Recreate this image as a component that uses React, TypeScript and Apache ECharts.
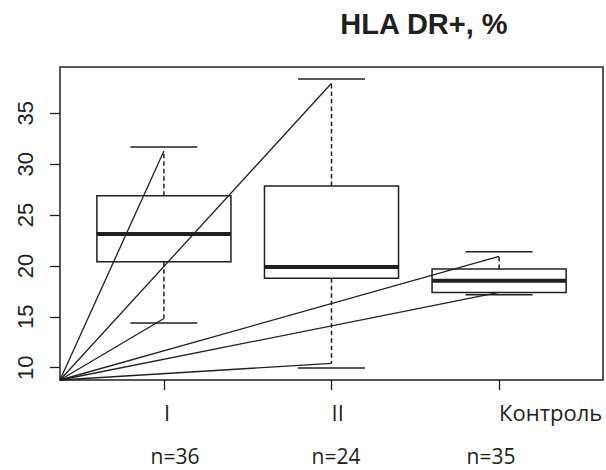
import { useEffect, useRef } from 'react';
import * as echarts from 'echarts';

const categories = ['I', 'II', 'Контроль'];
const sampleSizes = ['n=36', 'n=24', 'n=35'];
const q1 = [20.4, 18.8, 17.4];
const median = [23.15, 19.9, 18.55];
const q3 = [26.9, 27.85, 19.7];
const whiskerLow = [14.84, 10.42, 17.4];
const whiskerHigh = [31.3, 37.95, 20.94];
const capLow = [14.4, 9.97, 17.16];
const capHigh = [31.7, 38.37, 21.4];
const yTicks = [10, 15, 20, 25, 30, 35];
const xTicks = [1, 2, 3];
const title = 'HLA DR+, %';

const INK = '#231f20';

export default function App() {
  const ref = useRef<HTMLDivElement>(null);
  useEffect(() => {
    document.body.style.margin = '0';
    const chart = echarts.init(ref.current!, null, { renderer: 'svg' });
    const boxData = categories.map((_, i) => [
      i + 1, capLow[i], whiskerLow[i], q1[i], median[i], q3[i], whiskerHigh[i], capHigh[i],
    ]);
    const rayData = categories.flatMap((_, i) => [
      [i + 1, whiskerHigh[i]],
      [i + 1, whiskerLow[i]],
    ]);
    const nX = [175, 336, 491];
    chart.setOption({
      animation: false,
      backgroundColor: '#fff',
      grid: {
        left: 60, right: 3, top: 67, bottom: 90,
        show: true, borderColor: INK, borderWidth: 1.5, containLabel: false,
      },
      xAxis: {
        type: 'value', min: 0.38, max: 3.62,
        splitLine: { show: false },
        axisLine: { show: false, onZero: false },
        axisTick: { show: true, customValues: xTicks, length: 10, lineStyle: { color: INK, width: 1.3 } },
        axisLabel: {
          customValues: xTicks,
          formatter: (v: number) => categories[Math.round(v) - 1] ?? '',
          align: 'left', fontFamily: 'Open Sans', fontSize: 22, color: INK, margin: 21,
        },
      },
      yAxis: {
        type: 'value', min: 8.79, max: 39.55,
        splitLine: { show: false },
        axisLine: { show: false, onZero: false },
        axisTick: { show: true, customValues: yTicks, length: 10, lineStyle: { color: INK, width: 1.3 } },
        axisLabel: {
          customValues: yTicks, rotate: 90,
          fontFamily: 'Liberation Sans', fontSize: 22, color: INK, margin: 24,
        },
      },
      graphic: [
        {
          type: 'text', x: 424, y: 24,
          style: { text: title, font: 'bold 29px "Liberation Sans", Arial', fill: INK, align: 'center', verticalAlign: 'middle' },
        },
        ...sampleSizes.map((s, i) => ({
          type: 'text', x: nX[i], y: 456,
          style: { text: s, font: '21px "Open Sans"', lineHeight: 21, fill: INK, align: 'center', verticalAlign: 'middle' },
        })),
      ],
      series: [
        {
          type: 'custom',
          data: boxData,
          encode: { x: 0, y: [1, 2, 3, 4, 5, 6, 7] },
          clip: false,
          renderItem: (params: any, api: any) => {
            const x = api.value(0);
            const px = api.coord([x, api.value(4)])[0];
            const left = api.coord([x - 0.4, 0])[0];
            const right = api.coord([x + 0.4, 0])[0];
            const capL = api.coord([x - 0.2, 0])[0];
            const capR = api.coord([x + 0.2, 0])[0];
            const y = (k: number) => api.coord([x, api.value(k)])[1];
            const yCapLow = y(1), yWLow = y(2), yQ1 = y(3), yMed = y(4), yQ3 = y(5), yWHigh = y(6), yCapHigh = y(7);
            const solid = { stroke: INK, lineWidth: 1.5, fill: 'none' };
            const dashed = { stroke: INK, lineWidth: 1.5, lineDash: [4.5, 3] };
            return {
              type: 'group',
              children: [
                { type: 'line', shape: { x1: px, y1: yQ3, x2: px, y2: yWHigh }, style: dashed },
                { type: 'line', shape: { x1: px, y1: yQ1, x2: px, y2: yWLow }, style: dashed },
                { type: 'line', shape: { x1: capL, y1: yCapHigh, x2: capR, y2: yCapHigh }, style: solid },
                { type: 'line', shape: { x1: capL, y1: yCapLow, x2: capR, y2: yCapLow }, style: solid },
                { type: 'rect', shape: { x: left, y: yQ3, width: right - left, height: yQ1 - yQ3 }, style: solid },
                { type: 'line', shape: { x1: left, y1: yMed, x2: right, y2: yMed }, style: { stroke: INK, lineWidth: 4 } },
              ],
            };
          },
        },
        {
          type: 'custom',
          data: rayData,
          encode: { x: 0, y: 1 },
          clip: false,
          renderItem: (params: any, api: any) => {
            const cs = params.coordSys;
            const end = api.coord([api.value(0), api.value(1)]);
            return {
              type: 'line',
              shape: { x1: cs.x, y1: cs.y + cs.height, x2: end[0], y2: end[1] },
              style: { stroke: INK, lineWidth: 1.3 },
            };
          },
        },
      ],
    });
    return () => chart.dispose();
  }, []);
  return <div ref={ref} style={{ width: 606, height: 470 }} />;
}
